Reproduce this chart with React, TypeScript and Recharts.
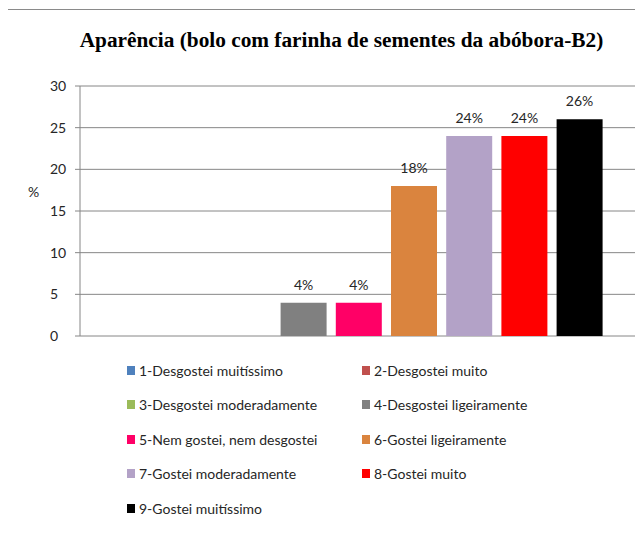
import React from 'react';
import { BarChart, Bar, XAxis, YAxis, CartesianGrid, Legend, LabelList } from 'recharts';

const categories = ['B2'];
const seriesNames = [
  '1-Desgostei muitíssimo',
  '2-Desgostei muito',
  '3-Desgostei moderadamente',
  '4-Desgostei ligeiramente',
  '5-Nem gostei, nem desgostei',
  '6-Gostei ligeiramente',
  '7-Gostei moderadamente',
  '8-Gostei muito',
  '9-Gostei muitíssimo',
];
const seriesValues = [0, 0, 0, 4, 4, 18, 24, 24, 26];
const seriesColors = ['#4F81BD', '#C0504D', '#9BBB59', '#808080', '#FF0066', '#DA843E', '#B3A2C7', '#FF0000', '#000000'];
const yTicks = [0, 5, 10, 15, 20, 25, 30];
const title = 'Aparência (bolo com farinha de sementes da abóbora-B2)';

const data = categories.map((name) => {
  const row: Record<string, any> = { name };
  seriesNames.forEach((s, i) => {
    row['s' + i] = seriesValues[i];
  });
  return row;
});

const FONT = 'Lato, "Open Sans", sans-serif';

const YTick = (props: any) => {
  const { y, payload } = props;
  return (
    <text x={50} y={y} dy={5} textAnchor="start" fontFamily={FONT} fontSize={14} fill="#262626">
      {payload.value}
    </text>
  );
};

const LegendContent = (props: any) => {
  const { payload } = props;
  const colX = [127, 362];
  const rowY = [370, 404.5, 439, 473.5, 508];
  return (
    <div style={{ position: 'relative', width: 643, height: 534 }}>
      {(payload || []).map((entry: any, i: number) => {
        const col = i % 2;
        const row = Math.floor(i / 2);
        return (
          <div
            key={i}
            style={{
              position: 'absolute',
              left: colX[col],
              top: rowY[row] - 10,
              height: 20,
              display: 'flex',
              alignItems: 'center',
              whiteSpace: 'nowrap',
              fontFamily: FONT,
              fontSize: 14,
              color: '#262626',
            }}
          >
            <span style={{ display: 'inline-block', width: 8, height: 9, background: entry.color, marginRight: 4 }} />
            <span>{entry.value}</span>
          </div>
        );
      })}
    </div>
  );
};

export default function App() {
  return (
    <div style={{ position: 'relative', width: 643, height: 534, margin: -8, background: '#fff', overflow: 'hidden' }}>
      <div
        style={{
          position: 'absolute',
          left: 6,
          top: 9,
          width: 700,
          height: 600,
          borderLeft: '1.5px solid #8a8a8a',
          borderTop: '1.5px solid #8a8a8a',
        }}
      />
      <div
        style={{
          position: 'absolute',
          left: 0,
          width: 683,
          top: 28,
          textAlign: 'center',
          fontFamily: '"Liberation Serif", "Times New Roman", serif',
          fontWeight: 'bold',
          fontSize: 21.3,
          color: '#000',
          whiteSpace: 'nowrap',
        }}
      >
        {title}
      </div>
      <div style={{ position: 'absolute', left: 28, top: 183, fontFamily: FONT, fontSize: 14, color: '#262626' }}>%</div>
      <div style={{ position: 'absolute', left: 0, top: 0 }}>
        <BarChart
          width={643}
          height={534}
          data={data}
          margin={{ top: 86, right: 5, left: 40, bottom: 198 }}
          barSize={46}
          barGap={9.2}
        >
          <CartesianGrid vertical={false} stroke="#868686" strokeWidth={1} />
          <XAxis dataKey="name" hide />
          <YAxis
            width={40}
            domain={[0, 30]}
            ticks={yTicks}
            interval={0}
            tick={<YTick />}
            tickSize={5}
            axisLine={{ stroke: '#868686' }}
            tickLine={{ stroke: '#868686' }}
          />
          <Legend
            layout="horizontal"
            verticalAlign="middle"
            align="center"
            content={<LegendContent />}
            wrapperStyle={{ position: 'absolute', left: 0, top: 0, width: 643, height: 534, pointerEvents: 'none' }}
          />
          {seriesNames.map((s, i) => (
            <Bar key={s} dataKey={'s' + i} name={s} fill={seriesColors[i]} isAnimationActive={false}>
              <LabelList
                dataKey={'s' + i}
                position="top"
                offset={13}
                fontFamily={FONT}
                fontSize={14}
                fill="#262626"
                formatter={(v: any) => (v > 0 ? v + '%' : '')}
              />
            </Bar>
          ))}
        </BarChart>
      </div>
    </div>
  );
}
